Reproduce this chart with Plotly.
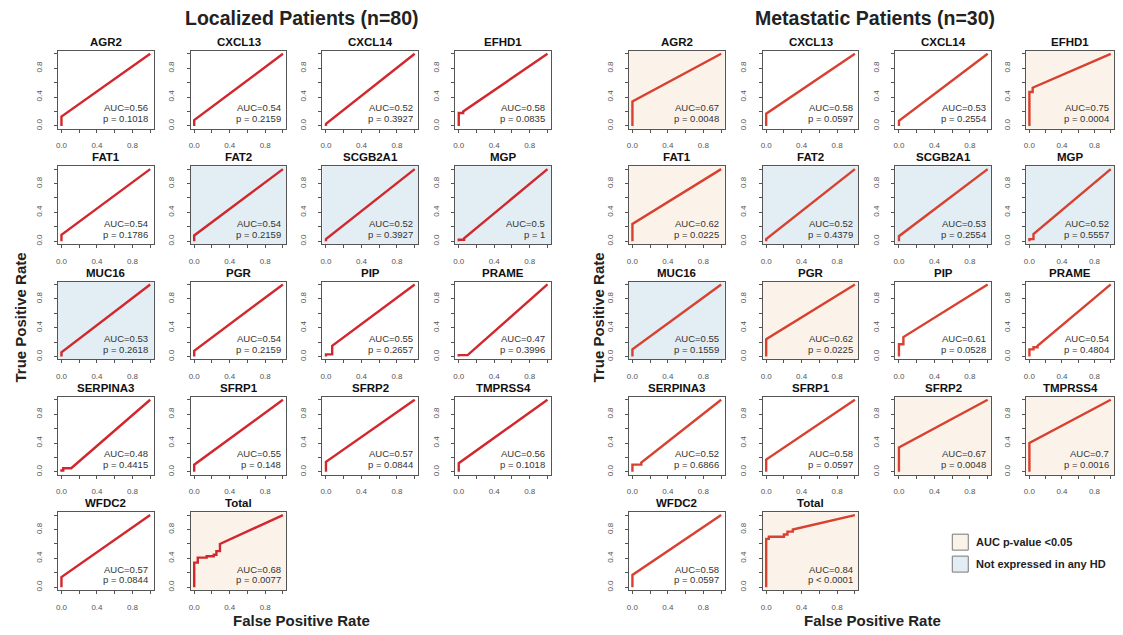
import plotly.graph_objects as go

# reference canvas is 1123x635; the page body has an 8px margin and the plot div is
# clipped to the body's content width, so the figure is drawn smaller and every
# reference pixel position is shifted by OFF.
REF_W, REF_H = 1123, 635
OFF = 8
W, H = REF_W - 2 * OFF, REF_H - OFF
VIS_RIGHT = REF_W - OFF - 1  # right-most visible reference pixel

genes = ["AGR2", "CXCL13", "CXCL14", "EFHD1", "FAT1", "FAT2", "SCGB2A1", "MGP", "MUC16",
         "PGR", "PIP", "PRAME", "SERPINA3", "SFRP1", "SFRP2", "TMPRSS4", "WFDC2", "Total"]

loc_auc = ["0.56", "0.54", "0.52", "0.58", "0.54", "0.54", "0.52", "0.5", "0.53",
           "0.54", "0.55", "0.47", "0.48", "0.55", "0.57", "0.56", "0.57", "0.68"]
loc_p = ["p = 0.1018", "p = 0.2159", "p = 0.3927", "p = 0.0835", "p = 0.1786", "p = 0.2159",
         "p = 0.3927", "p = 1", "p = 0.2618", "p = 0.2159", "p = 0.2657", "p = 0.3996",
         "p = 0.4415", "p = 0.148", "p = 0.0844", "p = 0.1018", "p = 0.0844", "p = 0.0077"]
met_auc = ["0.67", "0.58", "0.53", "0.75", "0.62", "0.52", "0.53", "0.52", "0.55",
           "0.62", "0.61", "0.54", "0.52", "0.58", "0.67", "0.7", "0.58", "0.84"]
met_p = ["p = 0.0048", "p = 0.0597", "p = 0.2554", "p = 0.0004", "p = 0.0225", "p = 0.4379",
         "p = 0.2554", "p = 0.5557", "p = 0.1559", "p = 0.0225", "p = 0.0528", "p = 0.4804",
         "p = 0.6866", "p = 0.0597", "p = 0.0048", "p = 0.0016", "p = 0.0597", "p < 0.0001"]

# panel highlight: "sig" = AUC p-value <0.05, "nohd" = not expressed in any HD
loc_class = ["", "", "", "", "", "nohd", "nohd", "nohd", "nohd", "", "", "", "", "", "", "", "", "sig"]
met_class = ["sig", "", "", "sig", "sig", "nohd", "nohd", "nohd", "nohd", "sig", "", "", "", "", "sig", "sig", "", "sig"]

# ROC curves (FPR, TPR)
loc_fpr = [
    [0, 0, 1], [0, 0, 1], [0, 0, 1], [0, 0, 0.05, 0.05, 1],
    [0, 0, 1], [0, 0, 1], [0, 0, 1], [0, 0, 0.06, 0.06, 1],
    [0, 0, 1], [0, 0, 1], [0, 0, 0.07, 0.07, 1], [0, 0, 0.1, 1],
    [0, 0, 0.02, 0.02, 0.11, 1], [0, 0, 1], [0, 0, 1], [0, 0, 1],
    [0, 0, 1],
    [0, 0, 0.04, 0.04, 0.14, 0.14, 0.22, 0.22, 0.25, 0.25, 0.29, 0.29, 1],
]
loc_tpr = [
    [0, 0.13, 1], [0, 0.08, 1], [0, 0.03, 1], [0, 0.18, 0.18, 0.2, 1],
    [0, 0.09, 1], [0, 0.08, 1], [0, 0.03, 1], [0, 0.02, 0.02, 0.04, 1],
    [0, 0.06, 1], [0, 0.08, 1], [0, 0.03, 0.03, 0.15, 1], [0, 0.02, 0.02, 1],
    [0, 0.02, 0.02, 0.05, 0.05, 1], [0, 0.1, 1], [0, 0.14, 1], [0, 0.12, 1],
    [0, 0.14, 1],
    [0, 0.34, 0.34, 0.41, 0.41, 0.43, 0.43, 0.45, 0.45, 0.5, 0.5, 0.6, 1],
]
met_fpr = [
    [0, 0, 1], [0, 0, 1], [0, 0, 1], [0, 0, 0.04, 0.04, 1],
    [0, 0, 1], [0, 0, 1], [0, 0, 1], [0, 0, 0.05, 0.05, 1],
    [0, 0, 1], [0, 0, 1], [0, 0, 0.05, 0.05, 1], [0, 0, 0.05, 0.05, 0.1, 0.1, 1],
    [0, 0, 0.1, 0.1, 1], [0, 0, 1], [0, 0, 1], [0, 0, 1],
    [0, 0, 1],
    [0, 0, 0.03, 0.03, 0.2, 0.2, 0.24, 0.24, 0.3, 0.3, 1],
]
met_tpr = [
    [0, 0.34, 1], [0, 0.17, 1], [0, 0.07, 1], [0, 0.47, 0.47, 0.53, 1],
    [0, 0.24, 1], [0, 0.03, 1], [0, 0.07, 1], [0, 0.03, 0.03, 0.1, 1],
    [0, 0.1, 1], [0, 0.24, 1], [0, 0.17, 0.17, 0.27, 1], [0, 0.1, 0.1, 0.13, 0.13, 0.15, 1],
    [0, 0.1, 0.1, 0.13, 1], [0, 0.17, 1], [0, 0.34, 1], [0, 0.4, 1],
    [0, 0.17, 1],
    [0, 0.67, 0.67, 0.7, 0.7, 0.73, 0.73, 0.77, 0.77, 0.8, 1],
]

group_titles = ["Localized Patients (n=80)", "Metastatic Patients (n=30)"]
legend_labels = ["AUC p-value <0.05", "Not expressed in any HD"]
tick_vals = [0, 0.2, 0.4, 0.6, 0.8, 1.0]
tick_text = ["0.0", "", "0.4", "", "0.8", ""]

# ---- layout geometry (reference pixels) ----
col_left = [[56, 189, 321, 454], [628, 762, 895, 1026]]
box_w = 96
row_top = [51, 166.5, 282, 397.5, 513]
box_h = 78


def px(x):
    return min(max((x - OFF) / W, 0.0), 1.0)


def py(y):
    return min(max(1 - (y - OFF) / H, 0.0), 1.0)


FONT = "Liberation Sans, Arial, Helvetica, sans-serif"
BG = {"sig": "#fbf3ea", "nohd": "#e2edf4"}
LINE_COL = ["#d2282d", "#d8402f"]

fig = go.Figure()
layout = dict(
    width=W, height=H, margin=dict(l=0, r=0, t=0, b=0),
    paper_bgcolor="white", plot_bgcolor="white", showlegend=False,
    font=dict(family=FONT, color="#222"),
)
annotations = []
shapes = []

groups = [
    (loc_auc, loc_p, loc_class, loc_fpr, loc_tpr),
    (met_auc, met_p, met_class, met_fpr, met_tpr),
]

k = 0
for g, (aucs, ps, cls, fprs, tprs) in enumerate(groups):
    for i, gene in enumerate(genes):
        k += 1
        r, c = divmod(i, 4)
        x0 = col_left[g][c]
        x1 = min(x0 + box_w, VIS_RIGHT)
        y0 = row_top[r]
        y1 = y0 + box_h
        xs = "" if k == 1 else str(k)
        axis_common = dict(
            range=[-0.04, 1.04], tickvals=tick_vals, ticktext=tick_text,
            ticks="outside", ticklen=3, tickwidth=1, tickcolor="#555",
            showline=True, linecolor="#555", linewidth=1, mirror=True,
            showgrid=False, zeroline=False, fixedrange=True,
            tickfont=dict(family=FONT, size=8, color="#555"),
        )
        layout["xaxis" + xs] = dict(axis_common, domain=[px(x0), px(x1)], anchor="y" + xs,
                                    ticklabelstandoff=6)
        layout["yaxis" + xs] = dict(axis_common, domain=[py(y1), py(y0)], anchor="x" + xs,
                                    tickangle=-90, ticklabelstandoff=9)
        fig.add_trace(go.Scatter(
            x=fprs[i], y=tprs[i], mode="lines", xaxis="x" + xs, yaxis="y" + xs,
            line=dict(color=LINE_COL[g], width=2.4), hoverinfo="skip",
        ))
        if cls[i]:
            shapes.append(dict(type="rect", xref="x%s domain" % xs, yref="y%s domain" % xs,
                               x0=0, x1=1, y0=0, y1=1, fillcolor=BG[cls[i]],
                               line=dict(width=0), layer="below"))
        annotations.append(dict(
            text="<b>%s</b>" % gene, xref="paper", yref="paper",
            x=px((x0 + x1) / 2), y=py(y0 - 1), xanchor="center", yanchor="bottom",
            showarrow=False, font=dict(family=FONT, size=11.5, color="#111"),
        ))
        annotations.append(dict(
            text="AUC=" + aucs[i], xref="x" + xs, yref="y" + xs, x=1.0, y=0.25,
            xanchor="right", yanchor="middle", showarrow=False,
            font=dict(family=FONT, size=9.5, color="#333"),
        ))
        annotations.append(dict(
            text=ps[i], xref="x" + xs, yref="y" + xs, x=1.0, y=0.1,
            xanchor="right", yanchor="middle", showarrow=False,
            font=dict(family=FONT, size=9.5, color="#333"),
        ))

# group titles and axis titles
for g, cx in enumerate([301, 875]):
    annotations.append(dict(text="<b>%s</b>" % group_titles[g], xref="paper", yref="paper",
                            x=px(cx), y=py(18), xanchor="center", yanchor="middle",
                            showarrow=False, font=dict(family=FONT, size=19.5, color="#222")))
for cx in [300, 872]:
    annotations.append(dict(text="<b>False Positive Rate</b>", xref="paper", yref="paper",
                            x=px(cx), y=py(621), xanchor="center", yanchor="middle",
                            showarrow=False, font=dict(family=FONT, size=15, color="#222")))
for cx in [19, 598]:
    annotations.append(dict(text="<b>True Positive Rate</b>", xref="paper", yref="paper",
                            x=px(cx), y=py(318), xanchor="center", yanchor="middle",
                            textangle=-90, showarrow=False,
                            font=dict(family=FONT, size=15, color="#222")))

# legend
for j, (lab, key) in enumerate(zip(legend_labels, ["sig", "nohd"])):
    ty = 543 + j * 22
    shapes.append(dict(type="rect", xref="paper", yref="paper",
                       x0=px(952), x1=px(968), y0=py(ty + 8), y1=py(ty - 8),
                       fillcolor=BG[key], line=dict(color="#777", width=1)))
    annotations.append(dict(text="<b>%s</b>" % lab, xref="paper", yref="paper",
                            x=px(974), y=py(ty), xanchor="left", yanchor="middle",
                            showarrow=False, font=dict(family=FONT, size=11, color="#222")))

layout["annotations"] = annotations
layout["shapes"] = shapes
fig.update_layout(**layout)
fig.write_html("out.html")
